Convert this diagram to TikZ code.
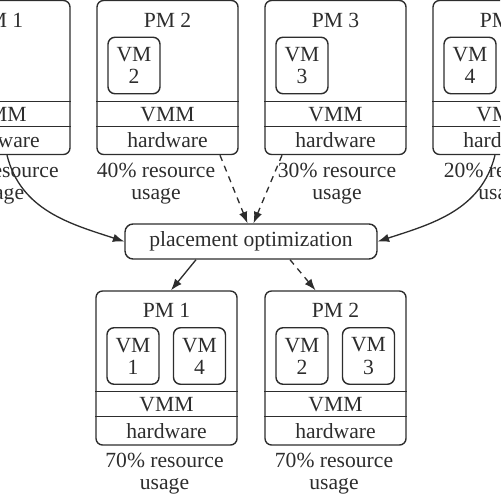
\documentclass[tikz,border=0pt]{standalone}
\usepackage{fontspec}
\setmainfont{Liberation Serif}
\usetikzlibrary{arrows.meta,calc}
\definecolor{inkgray}{RGB}{45,45,45}
\newcommand{\pmfont}{\fontsize{12.3}{12.6}\selectfont}
\tikzset{
  pmbox/.style={draw=inkgray, line width=0.8pt, rounded corners=0.13cm,
                minimum width=2.82cm, minimum height=3.08cm, inner sep=0pt},
  vmbox/.style={draw=inkgray, line width=0.8pt, rounded corners=0.14cm,
                minimum width=1.04cm, minimum height=1.13cm, inner sep=0pt,
                align=center, font=\pmfont, text=inkgray},
  band/.style={draw=inkgray, line width=0.7pt},
  lbl/.style={font=\pmfont, text=inkgray, inner sep=0pt, align=center},
  optbox/.style={draw=inkgray, line width=0.8pt, rounded corners=0.16cm,
                 minimum width=5.04cm, minimum height=0.7cm, inner sep=0pt,
                 font=\pmfont, text=inkgray},
  solarr/.style={-{Latex[length=6.5pt,width=4.8pt]}, inkgray, line width=0.75pt},
  dasharr/.style={solarr, dash pattern=on 3.5pt off 3pt},
}

\begin{document}
\begin{tikzpicture}[x=0.02cm, y=-0.02cm]
  \useasboundingbox (0,0) rectangle (500,500);
  \clip (0,0) rectangle (500,500);
  % current placement
  \foreach \i/\cx/\pct/\ux in {1/-0.5/50/-0.5, 2/167.5/40/156, 3/335.5/30/337, 4/503.5/20/503} {
    \node[pmbox] (pm\i) at (\cx,77.5) {};
    \node[lbl] (title\i) at (\cx,20) {PM \i};
    \node[vmbox] (vm\i) at (\cx-33.5,65.5) {VM\\\i};
    \draw[band] ($(pm\i.north west)+(0,101.5)$) -- ($(pm\i.north east)+(0,101.5)$);
    \draw[band] ($(pm\i.north west)+(0,126.5)$) -- ($(pm\i.north east)+(0,126.5)$);
    \node[lbl] (vmm\i) at (\cx,114.5) {VMM};
    \node[lbl] (hw\i) at (\cx,140.5) {hardware};
    \node[lbl] (use\i) at (\ux,183.5) {\pct\% resource\\usage};
  }

  \node[optbox] (opt) at (251,241.5) {placement optimization};

  % new placement
  \node[pmbox] (npm1) at (166.5,368) {};
  \node[lbl] (ntitle1) at (166.5,310.5) {PM 1};
  \node[vmbox] (nvm1) at (133,356) {VM\\1};
  \node[vmbox] (nvm4) at (199.5,356) {VM\\4};
  \draw[band] ($(npm1.north west)+(0,101.5)$) -- ($(npm1.north east)+(0,101.5)$);
  \draw[band] ($(npm1.north west)+(0,126.5)$) -- ($(npm1.north east)+(0,126.5)$);
  \node[lbl] (nvmm1) at (166.5,405) {VMM};
  \node[lbl] (nhw1) at (166.5,431) {hardware};
  \node[lbl] (nuse1) at (164.5,474) {70\% resource\\usage};

  \node[pmbox] (npm2) at (335.5,368) {};
  \node[lbl] (ntitle2) at (335.5,310.5) {PM 2};
  \node[vmbox] (nvm2) at (302,356) {VM\\2};
  \node[vmbox] (nvm3) at (368.5,356) {VM\\3};
  \draw[band] ($(npm2.north west)+(0,101.5)$) -- ($(npm2.north east)+(0,101.5)$);
  \draw[band] ($(npm2.north west)+(0,126.5)$) -- ($(npm2.north east)+(0,126.5)$);
  \node[lbl] (nvmm2) at (335.5,405) {VMM};
  \node[lbl] (nhw2) at (335.5,431) {hardware};
  \node[lbl] (nuse2) at (334,474) {70\% resource\\usage};

  % arrows
  \draw[solarr] ([xshift=0.15cm]pm1.south) to[out=-76, in=162] (opt.west);
  \draw[solarr] ([xshift=-0.17cm]pm4.south) to[out=-104, in=18] (opt.east);
  \draw[dasharr] ([xshift=1.05cm]pm2.south) -- ([xshift=-0.07cm]opt.north);
  \draw[dasharr] ([xshift=-1.07cm]pm3.south) -- ([xshift=0.05cm]opt.north);
  \draw[solarr] ([xshift=-1.1cm]opt.south) -- ([xshift=0.09cm]npm1.north);
  \draw[dasharr] ([xshift=0.78cm]opt.south) -- ([xshift=-0.4cm]npm2.north);
\end{tikzpicture}
\end{document}
